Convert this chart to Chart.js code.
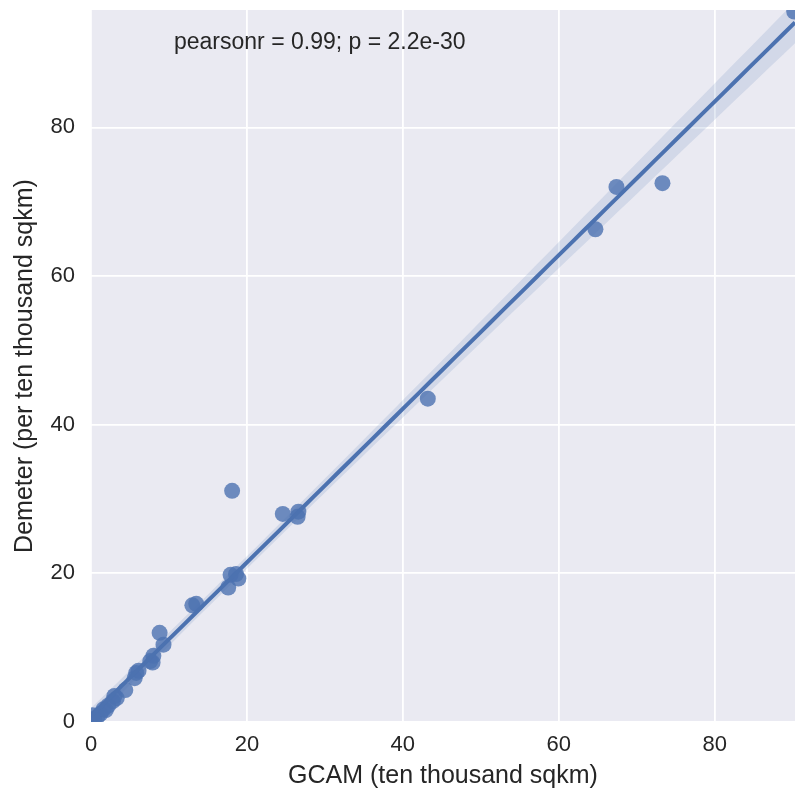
<!DOCTYPE html>
<html>
<head>
<meta charset="utf-8">
<script src="https://cdn.jsdelivr.net/npm/chart.js@4"></script>
<style>
  html, body { margin: 0; padding: 0; background: #fff; }
  canvas { display: block; }
</style>
</head>
<body>
<canvas id="chart" width="795" height="793"></canvas>
<script>
// values
const gcam = [90.2, 73.3, 67.4, 64.7, 43.2, 18.1, 24.6, 26.6, 26.5, 17.9, 18.9, 17.6, 18.6,
  13.0, 13.5, 8.8, 9.3, 8.0, 7.6, 7.9, 5.8, 5.6, 4.4, 3.3, 2.8, 2.2, 1.6, 1.2, 0.8, 0.4, 0.2, 3.0, 6.1, 1.9];
const demeter = [95.6, 72.5, 72.0, 66.3, 43.5, 31.1, 28.0, 28.3, 27.6, 19.8, 19.3, 18.1, 19.9,
  15.7, 15.9, 12.0, 10.4, 8.9, 8.2, 8.0, 6.6, 5.9, 4.3, 3.2, 2.8, 2.2, 1.7, 1.1, 0.7, 0.4, 0.9, 3.5, 6.9, 1.6];
const xRange = [0, 90.3];
const yRange = [0, 95.8];
const tickStep = 20;
const statText = 'pearsonr = 0.99; p = 2.2e-30';

const blue = '#4C72B0';
const fontFamily = '"Liberation Sans", Arial, sans-serif';

// least squares fit + 95% confidence band
const n = gcam.length;
const mx = gcam.reduce((a, b) => a + b, 0) / n;
const my = demeter.reduce((a, b) => a + b, 0) / n;
let sxx = 0, sxy = 0;
for (let i = 0; i < n; i++) {
  sxx += (gcam[i] - mx) ** 2;
  sxy += (gcam[i] - mx) * (demeter[i] - my);
}
const slope = sxy / sxx;
const intercept = my - slope * mx;
let sse = 0;
for (let i = 0; i < n; i++) sse += (demeter[i] - intercept - slope * gcam[i]) ** 2;
const se = Math.sqrt(sse / (n - 2));
const tCrit = 2.04;

const fitLine = [], bandLow = [], bandHigh = [];
const steps = 60;
for (let k = 0; k <= steps; k++) {
  const x = xRange[0] + (xRange[1] - xRange[0]) * k / steps;
  const y = intercept + slope * x;
  const half = tCrit * se * Math.sqrt(1 / n + (x - mx) ** 2 / sxx);
  fitLine.push({ x, y });
  bandLow.push({ x, y: y - half });
  bandHigh.push({ x, y: y + half });
}

const points = gcam.map((x, i) => ({ x, y: demeter[i] }));

const plotBackground = {
  id: 'plotBackground',
  beforeDraw(chart) {
    const { ctx, chartArea: a } = chart;
    ctx.save();
    ctx.fillStyle = '#EAEAF2';
    ctx.fillRect(a.left, a.top, a.right - a.left, a.bottom - a.top);
    ctx.restore();
  }
};

const statLabel = {
  id: 'statLabel',
  afterDraw(chart) {
    const { ctx } = chart;
    ctx.save();
    ctx.font = '23px ' + fontFamily;
    ctx.fillStyle = '#262626';
    ctx.textAlign = 'left';
    ctx.textBaseline = 'alphabetic';
    ctx.fillText(statText, 174, 49);
    ctx.restore();
  }
};

function noEdgePadding(scale) {
  scale.paddingTop = 0;
  scale.paddingBottom = 0;
  scale.paddingLeft = 0;
  scale.paddingRight = 0;
}

new Chart(document.getElementById('chart'), {
  type: 'scatter',
  data: {
    datasets: [
      {
        type: 'line',
        data: fitLine,
        borderColor: blue,
        borderWidth: 4,
        pointRadius: 0,
        fill: false,
        order: 0,
        clip: 0
      },
      {
        data: points,
        backgroundColor: 'rgba(76,114,176,0.8)',
        borderWidth: 0,
        pointRadius: 8,
        pointHoverRadius: 8,
        order: 1,
        clip: 0
      },
      {
        type: 'line',
        data: bandLow,
        borderWidth: 0,
        pointRadius: 0,
        fill: false,
        order: 2,
        clip: 0
      },
      {
        type: 'line',
        data: bandHigh,
        borderWidth: 0,
        pointRadius: 0,
        backgroundColor: 'rgba(76,114,176,0.15)',
        fill: '-1',
        order: 2,
        clip: 0
      }
    ]
  },
  options: {
    responsive: false,
    animation: false,
    devicePixelRatio: 1,
    layout: { autoPadding: false, padding: { top: 10, right: 0, left: 0, bottom: 0 } },
    plugins: { legend: { display: false }, tooltip: { enabled: false } },
    scales: {
      x: {
        type: 'linear',
        min: xRange[0],
        max: xRange[1],
        afterFit(scale) { scale.height = 71; noEdgePadding(scale); },
        border: { display: false },
        grid: { color: '#ffffff', lineWidth: 1.8, drawTicks: false },
        ticks: {
          stepSize: tickStep,
          includeBounds: false,
          padding: 10,
          color: '#262626',
          font: { family: fontFamily, size: 22 }
        },
        title: {
          display: true,
          text: 'GCAM (ten thousand sqkm)',
          color: '#262626',
          font: { family: fontFamily, size: 25 },
          padding: { top: 0, bottom: 2 }
        }
      },
      y: {
        type: 'linear',
        min: yRange[0],
        max: yRange[1],
        afterFit(scale) { scale.width = 91; noEdgePadding(scale); },
        border: { display: false },
        grid: { color: '#ffffff', lineWidth: 1.8, drawTicks: false },
        ticks: {
          stepSize: tickStep,
          includeBounds: false,
          padding: 16,
          color: '#262626',
          font: { family: fontFamily, size: 22 }
        },
        title: {
          display: true,
          text: 'Demeter (per ten thousand sqkm)',
          color: '#262626',
          font: { family: fontFamily, size: 25 },
          padding: { top: 10, bottom: 0 }
        }
      }
    }
  },
  plugins: [plotBackground, statLabel]
});
</script>
</body>
</html>
